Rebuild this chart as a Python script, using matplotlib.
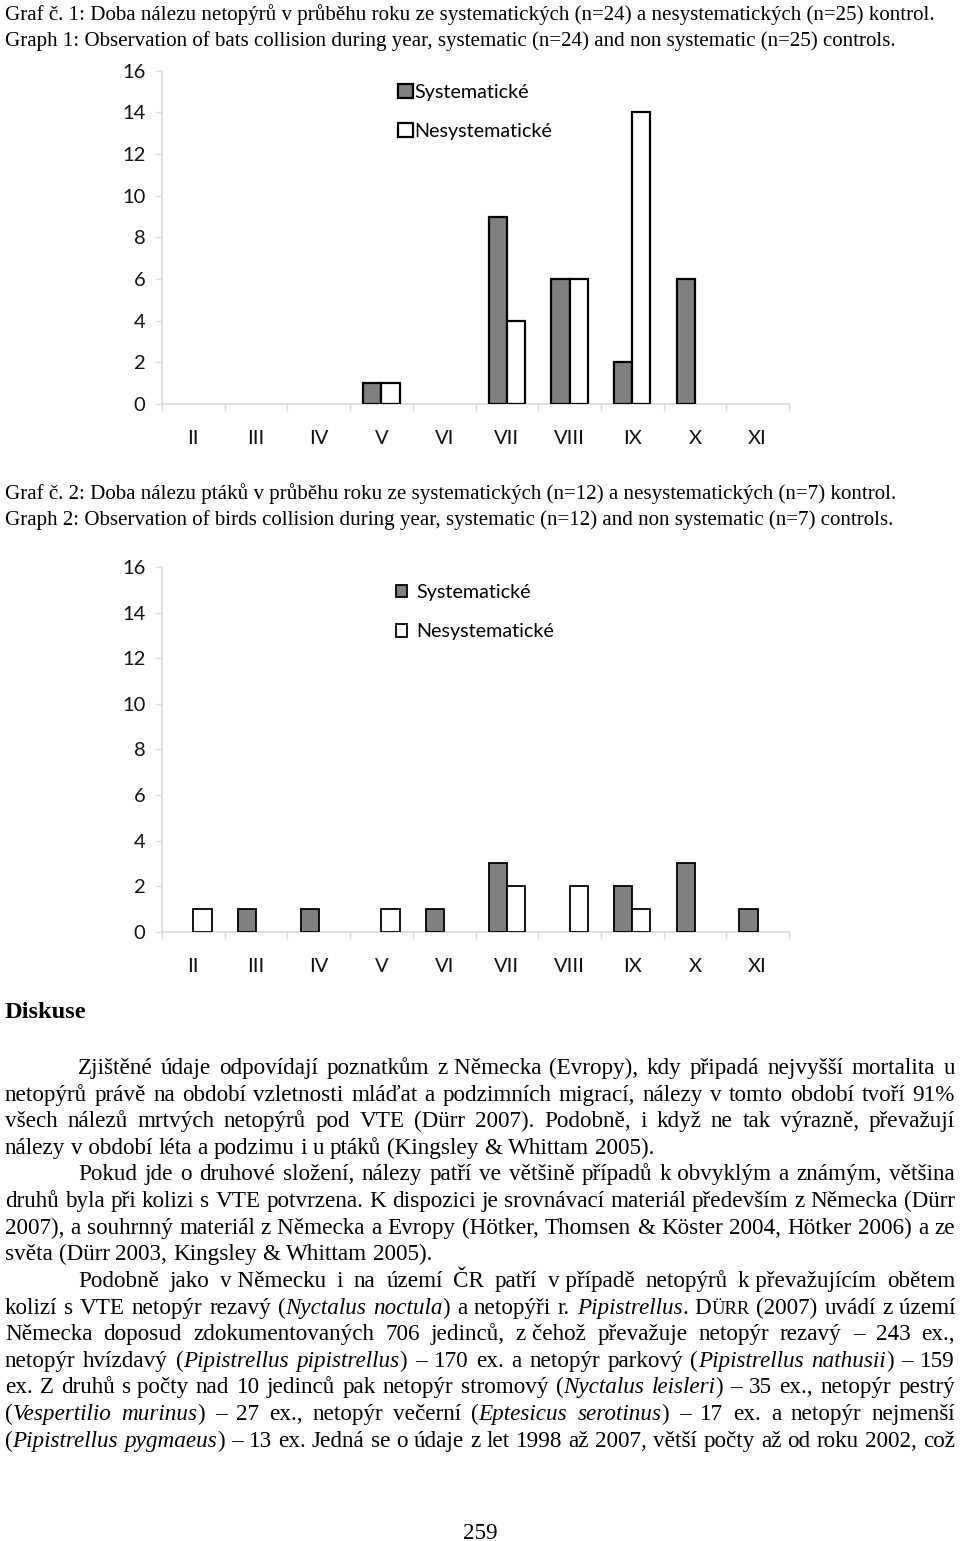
import numpy as np
import matplotlib
matplotlib.use('Agg')
import matplotlib.pyplot as plt
from matplotlib.ticker import FixedLocator

# ---------------- data ----------------
months = ['II', 'III', 'IV', 'V', 'VI', 'VII', 'VIII', 'IX', 'X', 'XI']
bats_sys = [0, 0, 0, 1, 0, 9, 6, 2, 6, 0]
bats_nonsys = [0, 0, 0, 1, 0, 4, 6, 14, 0, 0]
birds_sys = [0, 1, 1, 0, 1, 3, 0, 2, 3, 1]
birds_nonsys = [1, 0, 0, 1, 0, 2, 2, 1, 0, 0]
series_labels = ['Systematické', 'Nesystematické']
y_ticks = [0, 2, 4, 6, 8, 10, 12, 14, 16]

caption1 = ['Graf č. 1: Doba nálezu netopýrů v průběhu roku ze systematických (n=24) a nesystematických (n=25) kontrol.',
            'Graph 1: Observation of bats collision during year, systematic (n=24) and non systematic (n=25) controls.']
caption2 = ['Graf č. 2: Doba nálezu ptáků v průběhu roku ze systematických (n=12) a nesystematických (n=7) kontrol.',
            'Graph 2: Observation of birds collision during year, systematic (n=12) and non systematic (n=7) controls.']
heading = 'Diskuse'
# (text, indented, justified); *...* italic, ^...^ small caps, \u00a0 = non-breaking space
body = [
    ('Zjištěné údaje odpovídají poznatkům z\u00a0Německa (Evropy), kdy připadá nejvyšší mortalita u', True, True),
    ('netopýrů právě na období vzletnosti mláďat a podzimních migrací, nálezy v tomto období tvoří 91%', False, True),
    ('všech nálezů mrtvých netopýrů pod VTE (Dürr 2007). Podobně, i když ne tak výrazně, převažují', False, True),
    ('nálezy v\u00a0období léta a podzimu i u ptáků (Kingsley & Whittam 2005).', False, False),
    ('Pokud jde o druhové složení, nálezy patří ve většině případů k\u00a0obvyklým a známým, většina', True, True),
    ('druhů byla při kolizi s VTE potvrzena. K dispozici je srovnávací materiál především z Německa (Dürr', False, True),
    ('2007), a souhrnný materiál z\u00a0Německa a Evropy (Hötker, Thomsen & Köster 2004, Hötker 2006) a ze', False, True),
    ('světa (Dürr 2003, Kingsley & Whittam 2005).', False, False),
    ('Podobně jako v\u00a0Německu i na území ČR patří v\u00a0případě netopýrů k\u00a0převažujícím obětem', True, True),
    ('kolizí s VTE netopýr rezavý (*Nyctalus noctula*) a netopýři r. *Pipistrellus*. D^ÜRR^ (2007) uvádí z\u00a0území', False, True),
    ('Německa doposud zdokumentovaných 706 jedinců, z\u00a0čehož převažuje netopýr rezavý – 243 ex.,', False, True),
    ('netopýr hvízdavý (*Pipistrellus pipistrellus*) – 170 ex. a netopýr parkový (*Pipistrellus nathusii*) – 159', False, True),
    ('ex. Z druhů s\u00a0počty nad 10 jedinců pak netopýr stromový (*Nyctalus leisleri*) – 35 ex., netopýr pestrý', False, True),
    ('(*Vespertilio murinus*) – 27 ex., netopýr večerní (*Eptesicus serotinus*) – 17 ex. a netopýr nejmenší', False, True),
    ('(*Pipistrellus pygmaeus*) – 13 ex. Jedná se o údaje z let 1998 až 2007, větší počty až od roku 2002, což', False, True),
]
page_number = '259'

# ---------------- figure ----------------
W, H = 960, 1541
fig = plt.figure(figsize=(W / 100, H / 100), dpi=100)
fig.patch.set_facecolor('white')
renderer = fig.canvas.get_renderer()

SERIF = 'Liberation Serif'
SANS = ['Lato', 'DejaVu Sans']
GRAY = '#808080'
AXC = '#d9d9d9'


def fx(x):
    return x / W


def fy(y):
    return 1 - y / H


def text_w(s, size, style='n', weight='normal', family=SERIF):
    st = 'italic' if style == 'i' else 'normal'
    sz = size * 0.8 if style == 'sc' else size
    t = fig.text(0, 0, s, fontsize=sz, family=family, style=st, weight=weight)
    w = t.get_window_extent(renderer).width
    t.remove()
    return w


def draw_chart(top, bottom, sys_vals, non_vals, leg_pos, leg_fs, handle, hpad, lspace, bar_lw):
    left, right = 162, 789
    ax = fig.add_axes([fx(left), fy(bottom), fx(right - left), (bottom - top) / H])
    x = np.arange(len(months))
    w = 0.29
    lw_s = [bar_lw if v > 0 else 0 for v in sys_vals]
    lw_n = [bar_lw if v > 0 else 0 for v in non_vals]
    ax.bar(x - w / 2, sys_vals, w, color=GRAY, edgecolor='black', linewidth=lw_s,
           label=series_labels[0], zorder=3)
    ax.bar(x + w / 2, non_vals, w, color='white', edgecolor='black', linewidth=lw_n,
           label=series_labels[1], zorder=3)
    ax.set_xlim(-0.5, len(months) - 0.5)
    ax.set_ylim(0, 16)
    ax.set_yticks(y_ticks)
    ax.set_yticklabels([str(v) for v in y_ticks], family=SANS, fontsize=14.5, color='#111111')
    ax.set_xticks(x)
    ax.set_xticklabels(months, family=SANS, fontsize=14.5, color='#111111')
    ax.xaxis.set_minor_locator(FixedLocator(np.arange(-0.5, len(months), 1.0)))
    ax.tick_params(axis='x', which='major', length=0, pad=19)
    ax.tick_params(axis='x', which='minor', length=5, color=AXC, width=1)
    ax.tick_params(axis='y', length=4, color=AXC, width=1, pad=8)
    for s in ['top', 'right']:
        ax.spines[s].set_visible(False)
    for s in ['left', 'bottom']:
        ax.spines[s].set_color(AXC)
        ax.spines[s].set_linewidth(1.2)
        ax.spines[s].set_zorder(1)
    ax.set_facecolor('none')
    h1 = plt.Rectangle((0, 0), 1, 1, facecolor=GRAY, edgecolor='black', linewidth=bar_lw)
    h2 = plt.Rectangle((0, 0), 1, 1, facecolor='white', edgecolor='black', linewidth=bar_lw)
    ax.legend([h1, h2], series_labels, loc='upper left',
              bbox_to_anchor=(fx(leg_pos[0]), fy(leg_pos[1])), bbox_transform=fig.transFigure,
              frameon=False, prop={'family': SANS, 'size': leg_fs},
              handlelength=handle, handleheight=handle, handletextpad=hpad,
              labelspacing=lspace, borderpad=0, borderaxespad=0)
    return ax


draw_chart(70.7, 404, bats_sys, bats_nonsys, (398, 84), 14.2, 0.75, 0.08, 1.1, 1.6)
draw_chart(567, 931.7, birds_sys, birds_nonsys, (396, 584), 14.2, 0.57, 0.45, 1.14, 1.3)

# ---------------- captions ----------------
cap_size = 14 * 932 / text_w(caption1[0], 14)
for s, yc in zip(caption1 + caption2, [14, 40, 493, 519]):
    fig.text(fx(5), fy(yc + 0.3 * cap_size * 100 / 72), s, fontsize=cap_size, family=SERIF,
             ha='left', va='baseline')

# heading
head_size = 14 * 82 / text_w(heading, 14, weight='bold')
fig.text(fx(5), fy(1010 + 0.32 * head_size * 100 / 72), heading, fontsize=head_size, family=SERIF,
         weight='bold', ha='left', va='baseline')


# ---------------- justified body text ----------------
def parse_line(s):
    words, cur, buf, style = [], [], '', 'n'
    for ch in s:
        if ch in '*^':
            if buf:
                cur.append((buf, style))
                buf = ''
            mark = 'i' if ch == '*' else 'sc'
            style = 'n' if style == mark else mark
        elif ch == ' ':
            if buf:
                cur.append((buf, style))
                buf = ''
            if cur:
                words.append(cur)
                cur = []
        else:
            buf += ch
    if buf:
        cur.append((buf, style))
    if cur:
        words.append(cur)
    return words


L, R, INDENT = 5, 955, 73
parsed = [parse_line(t) for t, _, _ in body]
REF = 16.0
nat = []
for (t, ind, just), words in zip(body, parsed):
    ww = sum(text_w(r, REF, st) for wd in words for r, st in wd)
    sp = 0.25 * REF * 100 / 72 * (len(words) - 1)
    avail = R - L - (INDENT if ind else 0)
    if just:
        nat.append(avail / (ww + sp))
body_size = REF * min(nat) * 0.995
space_px = 0.25 * body_size * 100 / 72

y0, dy = 1067, 26.63
for i, ((t, ind, just), words) in enumerate(zip(body, parsed)):
    yc = y0 + i * dy
    yb = yc + 0.3 * body_size * 100 / 72
    widths = [[text_w(r, body_size, st) for r, st in wd] for wd in words]
    tot = sum(sum(w) for w in widths)
    start = L + (INDENT if ind else 0)
    if just and len(words) > 1:
        gap = (R - start - tot) / (len(words) - 1)
    else:
        gap = space_px
    xpos = start
    for wd, wl in zip(words, widths):
        xr = xpos
        for (r, st), w in zip(wd, wl):
            fig.text(fx(xr), fy(yb), r, fontsize=body_size * (0.8 if st == 'sc' else 1.0),
                     family=SERIF, style='italic' if st == 'i' else 'normal',
                     ha='left', va='baseline')
            xr += w
        xpos = xr + gap

fig.text(fx(480), fy(1532 + 0.3 * body_size * 100 / 72), page_number, fontsize=body_size,
         family=SERIF, ha='center', va='baseline')

fig.savefig('out.png', dpi=100, facecolor='white')
